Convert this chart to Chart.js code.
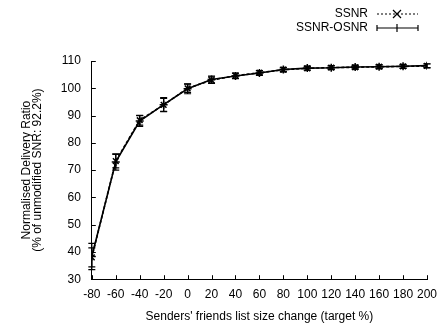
<!DOCTYPE html>
<html>
<head>
<meta charset="utf-8">
<script src="https://cdn.jsdelivr.net/npm/chart.js@4"></script>
<style>
  html, body { margin: 0; padding: 0; background: #fff; }
  #wrap { width: 440px; height: 327px; }
</style>
</head>
<body>
<div id="wrap"><canvas id="chart" width="440" height="327"></canvas></div>
<script>
// friends list size change (target %)
const sizeChange = [-80, -60, -40, -20, 0, 20, 40, 60, 80, 100, 120, 140, 160, 180, 200];
// normalised delivery ratio, and error bar half-heights
const ssnr = [38.0, 73.3, 88.3, 93.9, 100.0, 103.0, 104.6, 105.7, 106.8, 107.3, 107.6, 107.7, 107.9, 108.0, 108.2];
const ssnrErr = [3.5, 2.5, 1.8, 2.4, 1.5, 1.2, 1.0, 0.8, 0.8, 0.7, 0.7, 0.7, 0.7, 0.7, 0.7];
const ssnrOsnr = [38.3, 73.0, 88.0, 94.0, 99.8, 103.2, 104.5, 105.6, 106.9, 107.4, 107.5, 107.8, 107.9, 108.1, 108.3];
const ssnrOsnrErr = [4.8, 3.0, 2.0, 2.6, 1.8, 1.3, 1.0, 0.9, 0.8, 0.7, 0.7, 0.7, 0.7, 0.7, 0.7];
const errors = [ssnrErr, ssnrOsnrErr];

const FONT = 'Liberation Sans, Arial, Helvetica, sans-serif';

// gnuplot style error bars
const errorBars = {
    id: 'errorBars',
    afterDatasetsDraw(chart) {
        const ctx = chart.ctx;
        const y = chart.scales.y;
        ctx.save();
        ctx.strokeStyle = '#000';
        ctx.lineWidth = 1.2;
        chart.data.datasets.forEach((ds, di) => {
            const meta = chart.getDatasetMeta(di);
            meta.data.forEach((pt, i) => {
                const v = ds.data[i].y;
                const e = errors[di][i];
                const top = y.getPixelForValue(v + e);
                const bot = y.getPixelForValue(v - e);
                ctx.beginPath();
                ctx.moveTo(pt.x, top); ctx.lineTo(pt.x, bot);
                ctx.moveTo(pt.x - 3.5, top); ctx.lineTo(pt.x + 3.5, top);
                ctx.moveTo(pt.x - 3.5, bot); ctx.lineTo(pt.x + 3.5, bot);
                ctx.stroke();
            });
        });
        ctx.restore();
    }
};

// inward tick marks + top right key
const frame = {
    id: 'frame',
    afterDraw(chart) {
        const ctx = chart.ctx;
        const xs = chart.scales.x, ys = chart.scales.y;
        const a = chart.chartArea;
        ctx.save();
        ctx.strokeStyle = '#000';
        ctx.lineWidth = 1;
        ctx.beginPath();
        xs.ticks.forEach(t => {
            const px = Math.round(xs.getPixelForValue(t.value)) + 0.5;
            ctx.moveTo(px, a.bottom); ctx.lineTo(px, a.bottom - 4);
        });
        ys.ticks.forEach(t => {
            const py = Math.round(ys.getPixelForValue(t.value)) + 0.5;
            ctx.moveTo(a.left, py); ctx.lineTo(a.left + 4, py);
        });
        ctx.stroke();

        ctx.fillStyle = '#000';
        ctx.font = '12px ' + FONT;
        ctx.textAlign = 'right';
        ctx.textBaseline = 'middle';
        ctx.fillText('SSNR', 368, 14);
        ctx.fillText('SSNR-OSNR', 368, 28);
        ctx.lineWidth = 1.2;
        ctx.setLineDash([2, 2]);
        ctx.beginPath();
        ctx.moveTo(377, 14); ctx.lineTo(418, 14);
        ctx.stroke();
        ctx.setLineDash([]);
        ctx.beginPath();
        ctx.moveTo(393, 10); ctx.lineTo(401, 18);
        ctx.moveTo(401, 10); ctx.lineTo(393, 18);
        ctx.moveTo(377, 28); ctx.lineTo(418, 28);
        ctx.moveTo(377, 25); ctx.lineTo(377, 31);
        ctx.moveTo(418, 25); ctx.lineTo(418, 31);
        ctx.moveTo(397, 24); ctx.lineTo(397, 32);
        ctx.stroke();
        ctx.restore();
    }
};

const toXY = vals => vals.map((v, i) => ({ x: sizeChange[i], y: v }));

new Chart(document.getElementById('chart'), {
    type: 'line',
    data: {
        datasets: [{
            label: 'SSNR',
            data: toXY(ssnr),
            borderColor: '#000',
            borderWidth: 1.6,
            borderDash: [3, 2],
            pointStyle: 'crossRot',
            pointRadius: 4,
            pointBorderColor: '#000',
            pointBorderWidth: 1.5,
            tension: 0
        }, {
            label: 'SSNR-OSNR',
            data: toXY(ssnrOsnr),
            borderColor: '#000',
            borderWidth: 1.6,
            pointStyle: 'cross',
            pointRadius: 4,
            pointBorderColor: '#000',
            pointBorderWidth: 1.5,
            tension: 0
        }]
    },
    options: {
        responsive: false,
        animation: false,
        layout: { padding: { left: 21, top: 61, right: 0, bottom: 3 } },
        plugins: { legend: { display: false }, tooltip: { enabled: false } },
        scales: {
            x: {
                type: 'linear',
                min: -80, max: 200,
                afterFit: s => { s.paddingRight = 13; },
                grid: { display: false, drawTicks: false },
                border: { display: true, color: '#000', width: 1 },
                ticks: {
                    stepSize: 20, autoSkip: false, maxRotation: 0, minRotation: 0,
                    color: '#000', font: { family: FONT, size: 12 }, padding: 8
                },
                title: {
                    display: true, text: "Senders' friends list size change (target %)",
                    color: '#000', font: { family: FONT, size: 12 }, padding: { top: 0, bottom: 0 }
                }
            },
            y: {
                min: 30, max: 110,
                grid: { display: false, drawTicks: false },
                border: { display: true, color: '#000', width: 1 },
                ticks: {
                    stepSize: 10, color: '#000', font: { family: FONT, size: 12 }, padding: 11
                },
                title: {
                    display: true,
                    text: ['Normalised Delivery Ratio', '(% of unmodified SNR: 92.2%)'],
                    color: '#000', font: { family: FONT, size: 12, lineHeight: 0.95 }, padding: { top: 0, bottom: 6 }
                }
            }
        }
    },
    plugins: [errorBars, frame]
});
</script>
</body>
</html>
